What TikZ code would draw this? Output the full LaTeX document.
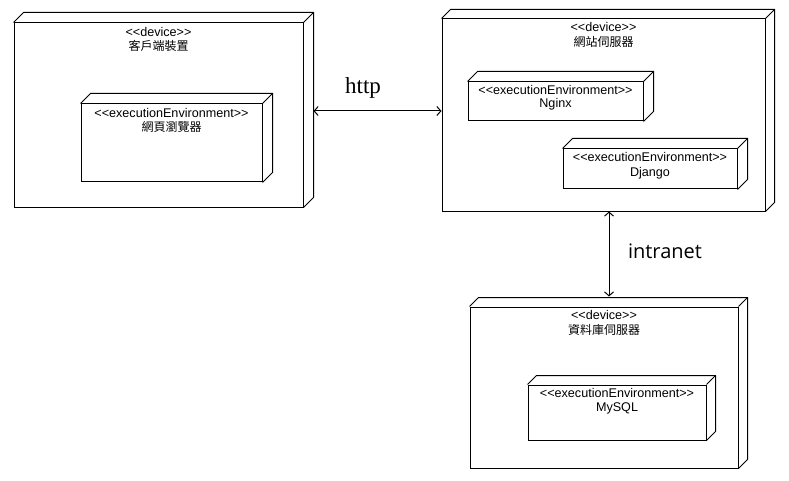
\documentclass[tikz,border=0pt]{standalone}
\usepackage{fontspec}
\setmainfont{Liberation Sans}[Ligatures=TeXOff]
\newfontfamily\cjk{Noto Sans CJK TC}
\newfontfamily\serifl{Liberation Serif}
\newfontfamily\osans{Open Sans}
\usetikzlibrary{fit,arrows.meta}
\tikzset{
  box/.style={draw, line width=1pt, inner sep=0pt, fill=white},
  depth/.style={draw, line width=1pt, line join=miter},
  lbl/.style={font=\fontsize{12.6}{14}\selectfont, inner sep=0pt, anchor=center},
  clbl/.style={font=\cjk\fontsize{12}{14}\selectfont, inner sep=0pt, anchor=center},
  link/.style={line width=1pt, {Straight Barb[length=4pt,width=9pt]}-{Straight Barb[length=4pt,width=9pt]}},
}
% name, x1, y1, x2, y2, depth
\newcommand{\ddnode}[6]{%
  \node[box, fit={(#2,#3)(#4,#5)}] (#1) {};
  \draw[depth] (#1.north west) -- ++(#6,-#6) -- ([shift={(#6,-#6)}]#1.north east)
     -- ([shift={(#6,-#6)}]#1.south east) -- (#1.south east);
  \draw[depth] (#1.north east) -- ++(#6,-#6);
}
\begin{document}
\begin{tikzpicture}[x=1pt,y=-1pt]
\useasboundingbox[fill=white] (0,0) rectangle (789,481);
% client device
\ddnode{client}{14}{23}{303}{207}{10}
\node[lbl] (clientst) at (158.5,32) {<<device>>};
\node[clbl] (clientname) at (158.5,46) {客戶端裝置};
\ddnode{browser}{81}{104}{262}{182}{10}
\node[lbl] (browserst) at (171.5,113) {<<executionEnvironment>>};
\node[clbl] (browsername) at (171.5,127) {網頁瀏覽器};
% web server
\ddnode{web}{442}{19}{765}{211}{9}
\node[lbl] (webst) at (603.5,27) {<<device>>};
\node[clbl] (webname) at (603.5,42) {網站伺服器};
\ddnode{nginx}{468}{82}{643}{121}{10}
\node[lbl] (nginxst) at (555.5,90) {<<executionEnvironment>>};
\node[lbl] (nginxname) at (555.5,104) {Nginx};
\ddnode{django}{563}{149}{737}{189}{10}
\node[lbl] (djangost) at (650,157) {<<executionEnvironment>>};
\node[lbl] (djangoname) at (650,173) {Django};
% db server
\ddnode{db}{470}{307}{738}{468}{9}
\node[lbl] (dbst) at (604,315) {<<device>>};
\node[clbl] (dbname) at (604,330) {資料庫伺服器};
\ddnode{mysql}{528}{385}{706}{440}{9}
\node[lbl] (mysqlst) at (617,393) {<<executionEnvironment>>};
\node[lbl] (mysqlname) at (617,408) {MySQL};
% connectors
\coordinate (httpstart) at ([shift={(10,-4)}]client.east);
\draw[link] (httpstart) -- (httpstart -| web.west);
\node[font=\serifl\fontsize{23}{26}\selectfont, inner sep=0pt] (httplbl) at (363,88) {http};
\coordinate (dbtop) at ([shift={(5,-10)}]db.north);
\draw[link] (dbtop |- web.south) -- (dbtop);
\node[font=\osans\fontsize{20}{23}\selectfont, inner sep=0pt] (intralbl) at (665,251) {intranet};
\end{tikzpicture}
\end{document}
